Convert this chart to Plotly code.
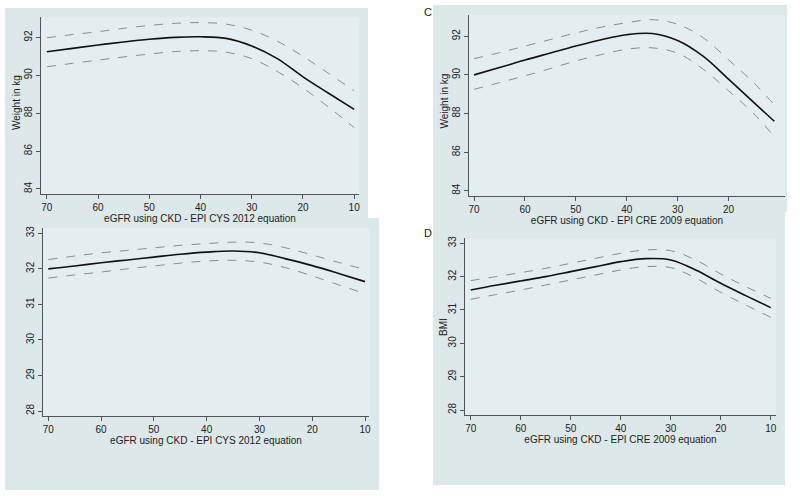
import plotly.graph_objects as go

W, H = 800, 496

# eGFR (x) values
x_cys = [70, 65, 60, 55, 50, 45, 40, 35, 30, 25, 20, 15, 10]
x_cre_wt = [70, 65, 60, 55, 50, 45, 40, 35, 30, 25, 20, 15, 11]
x_cre_bmi = [70, 65, 60, 55, 50, 45, 40, 35, 30, 25, 20, 15, 10]

# Panel A: weight vs eGFR CYS 2012
wt_cys = [91.24, 91.42, 91.6, 91.76, 91.9, 92.0, 92.03, 91.95, 91.55, 90.88, 89.92, 89.05, 88.2]
wt_cys_hi = [91.98, 92.15, 92.3, 92.48, 92.63, 92.74, 92.78, 92.7, 92.38, 91.8, 91.0, 90.1, 89.18]
wt_cys_lo = [90.45, 90.63, 90.8, 90.97, 91.12, 91.25, 91.3, 91.22, 90.88, 90.2, 89.33, 88.32, 87.24]

# Panel C: weight vs eGFR CRE 2009
wt_cre = [90.0, 90.38, 90.77, 91.13, 91.49, 91.82, 92.08, 92.14, 91.78, 90.97, 89.78, 88.56, 87.6]
wt_cre_hi = [90.84, 91.15, 91.49, 91.83, 92.17, 92.47, 92.7, 92.86, 92.62, 91.93, 90.78, 89.58, 88.45]
wt_cre_lo = [89.25, 89.6, 89.95, 90.33, 90.72, 91.05, 91.33, 91.4, 91.12, 90.3, 89.18, 87.98, 86.8]

# Panel B: BMI vs eGFR CYS 2012
bmi_cys = [32.0, 32.08, 32.17, 32.25, 32.33, 32.41, 32.47, 32.5, 32.45, 32.28, 32.09, 31.87, 31.64]
bmi_cys_hi = [32.26, 32.36, 32.45, 32.52, 32.59, 32.66, 32.71, 32.75, 32.73, 32.59, 32.39, 32.18, 31.98]
bmi_cys_lo = [31.74, 31.83, 31.91, 32.0, 32.08, 32.16, 32.22, 32.24, 32.19, 32.03, 31.8, 31.55, 31.3]

# Panel D: BMI vs eGFR CRE 2009
bmi_cre = [31.6, 31.74, 31.87, 32.0, 32.15, 32.3, 32.45, 32.54, 32.5, 32.2, 31.8, 31.43, 31.07]
bmi_cre_hi = [31.88, 32.0, 32.12, 32.25, 32.4, 32.55, 32.7, 32.8, 32.78, 32.5, 32.08, 31.7, 31.35]
bmi_cre_lo = [31.32, 31.46, 31.6, 31.75, 31.9, 32.05, 32.2, 32.3, 32.27, 31.96, 31.53, 31.15, 30.78]

wt_ticks = [84, 86, 88, 90, 92]
bmi_ticks = [28, 29, 30, 31, 32, 33]

FONT = "Liberation Sans, Arial, sans-serif"
BG = "#dde8eb"
INNER = "#e4edef"
AXIS = "#555555"
TXT = "#222222"


def px_x(v):
    return v / W


def px_y(v):
    return 1 - v / H


panels = [
    # suffix, x data, (fit, hi, lo), x domain px, y domain px, x range, y range, xticks, yticks, xtitle
    ("", x_cys, (wt_cys, wt_cys_hi, wt_cys_lo), (40.7, 359.3), (17.3, 194.3),
     [71.2, 9.0], [83.72, 93.06], [70, 60, 50, 40, 30, 20, 10], wt_ticks,
     "eGFR using CKD - EPI CYS 2012 equation"),
    ("2", x_cre_wt, (wt_cre, wt_cre_hi, wt_cre_lo), (469, 785), (15, 196),
     [71.0, 8.9], [83.73, 93.1], [70, 60, 50, 40, 30, 20], wt_ticks,
     "eGFR using CKD - EPI CRE 2009 equation"),
    ("3", x_cys, (bmi_cys, bmi_cys_hi, bmi_cys_lo), (42.7, 369.3), (228.3, 416),
     [71.06, 9.19], [27.86, 33.14], [70, 60, 50, 40, 30, 20, 10], bmi_ticks,
     "eGFR using CKD - EPI CYS 2012 equation"),
    ("4", x_cre_bmi, (bmi_cre, bmi_cre_hi, bmi_cre_lo), (465, 776), (238.3, 415),
     [71.14, 8.94], [27.85, 33.15], [70, 60, 50, 40, 30, 20, 10], bmi_ticks,
     "eGFR using CKD - EPI CRE 2009 equation"),
]

fig = go.Figure()
layout = {}

for suf, xs, (fit, hi, lo), xd, yd, xr, yr, xt, yt, xtitle in panels:
    xa, ya = "x" + suf, "y" + suf
    for ys, dash, col, wd in [(hi, "dash", "#8c8c8c", 1), (lo, "dash", "#8c8c8c", 1),
                              (fit, "solid", "#111111", 1.6)]:
        fig.add_trace(go.Scatter(
            x=xs, y=ys, xaxis=xa, yaxis=ya, mode="lines",
            line=dict(color=col, width=wd, dash=dash, shape="spline", smoothing=1.0),
            showlegend=False, hoverinfo="skip",
        ))
    layout["xaxis" + suf] = dict(
        domain=[px_x(xd[0]), px_x(xd[1])], range=xr, anchor=ya, automargin=False,
        tickvals=xt, ticks="outside", ticklen=4, tickcolor=AXIS,
        showline=True, linecolor=AXIS, linewidth=1, showgrid=False, zeroline=False,
        tickfont=dict(size=10, color=TXT),
        title=dict(text=xtitle, font=dict(size=10, color=TXT), standoff=0),
        fixedrange=True,
    )
    layout["yaxis" + suf] = dict(
        domain=[px_y(yd[1]), px_y(yd[0])], range=yr, anchor=xa, automargin=False,
        tickvals=yt, ticks="outside", ticklen=4, tickcolor=AXIS, tickangle=-90,
        showline=True, linecolor=AXIS, linewidth=1, showgrid=False, zeroline=False,
        tickfont=dict(size=10, color=TXT),
        fixedrange=True,
    )

# panel backgrounds (outer region, then lighter plot region)
bg_boxes = [(5, 8, 368, 218), (5, 218, 379, 490), (433, 5, 787, 212), (433, 212, 785, 485)]
inner_boxes = [(40.7, 17.3, 359.3, 194.3), (469, 15, 785, 196),
               (42.7, 228.3, 369.3, 416), (465, 238.3, 776, 415)]
shapes = []
for boxes, col in [(bg_boxes, BG), (inner_boxes, INNER)]:
    for x0, y0, x1, y1 in boxes:
        shapes.append(dict(
            type="rect", xref="paper", yref="paper", layer="below",
            x0=px_x(x0), x1=px_x(x1), y0=px_y(y1), y1=px_y(y0),
            fillcolor=col, line=dict(width=0),
        ))

# panel letters and y-axis titles (placed close to the tick labels, Stata style)
labels = [
    ("C", 428, 12, 0, 11),
    ("D", 428, 232.7, 0, 11),
    ("Weight in kg", 17, 103, -90, 10),
    ("Weight in kg", 444, 101.5, -90, 10),
    ("BMI", 443, 327, -90, 10),
]
annotations = [
    dict(text=t, x=px_x(x), y=px_y(y), xref="paper", yref="paper",
         xanchor="center", yanchor="middle", textangle=ang,
         showarrow=False, font=dict(size=sz, color=TXT))
    for t, x, y, ang, sz in labels
]

fig.update_layout(
    **layout,
    width=W, height=H,
    margin=dict(l=0, r=0, t=0, b=0, autoexpand=False),
    paper_bgcolor="white",
    plot_bgcolor="rgba(0,0,0,0)",
    font=dict(family=FONT, size=10, color=TXT),
    shapes=shapes,
    annotations=annotations,
)

# drop the browser's default body margin so the figure sits at (0, 0)
fig.write_html(
    "out.html",
    config={"displayModeBar": False},
    post_script="document.body.style.margin = '0';",
)
